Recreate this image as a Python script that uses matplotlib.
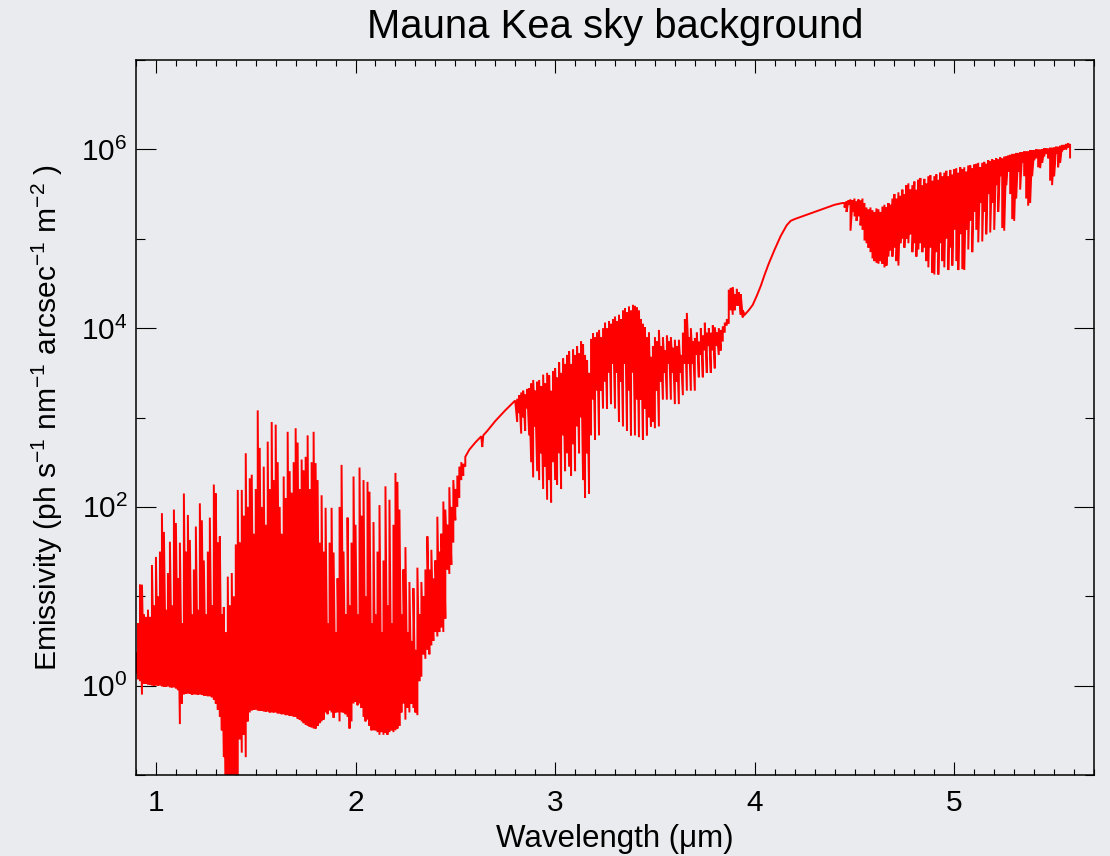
import numpy as np
import matplotlib
matplotlib.use("Agg")
import matplotlib.pyplot as plt
from matplotlib.ticker import FixedLocator, MultipleLocator, NullFormatter

# ---------------------------------------------------------------------------
# Mauna Kea sky emission spectrum, stored as log10 of the emissivity
# (ph s^-1 nm^-1 arcsec^-1 m^-2).  Dense line-forest bands are sampled as
# (wavelength, line peak, inter-line trough); smooth stretches as single values.
# ---------------------------------------------------------------------------

# 0.90 - 2.55 um : OH / H2O line forest (J, H, K)
jhk_wl = [
    0.90, 0.91, 0.92, 0.93, 0.94, 0.95, 0.96, 0.97, 0.98, 0.99,
    1.00, 1.01, 1.02, 1.03, 1.04, 1.05, 1.06, 1.07, 1.08, 1.09,
    1.10, 1.11, 1.12, 1.13, 1.14, 1.15, 1.16, 1.17, 1.18, 1.19,
    1.20, 1.21, 1.22, 1.23, 1.24, 1.25, 1.26, 1.27, 1.28, 1.29,
    1.30, 1.31, 1.32, 1.33, 1.34, 1.35, 1.36, 1.37, 1.38, 1.39,
    1.40, 1.41, 1.42, 1.43, 1.44, 1.45, 1.46, 1.47, 1.48, 1.49,
    1.50, 1.51, 1.52, 1.53, 1.54, 1.55, 1.56, 1.57, 1.58, 1.59,
    1.60, 1.61, 1.62, 1.63, 1.64, 1.65, 1.66, 1.67, 1.68, 1.69,
    1.70, 1.71, 1.72, 1.73, 1.74, 1.75, 1.76, 1.77, 1.78, 1.79,
    1.80, 1.81, 1.82, 1.83, 1.84, 1.85, 1.86, 1.87, 1.88, 1.89,
    1.90, 1.91, 1.92, 1.93, 1.94, 1.95, 1.96, 1.97, 1.98, 1.99,
    2.00, 2.01, 2.02, 2.03, 2.04, 2.05, 2.06, 2.07, 2.08, 2.09,
    2.10, 2.11, 2.12, 2.13, 2.14, 2.15, 2.16, 2.17, 2.18, 2.19,
    2.20, 2.21, 2.22, 2.23, 2.24, 2.25, 2.26, 2.27, 2.28, 2.29,
    2.30, 2.31, 2.32, 2.33, 2.34, 2.35, 2.36, 2.37, 2.38, 2.39,
    2.40, 2.41, 2.42, 2.43, 2.44, 2.45, 2.46, 2.47, 2.48, 2.49,
    2.50, 2.51, 2.52, 2.53, 2.54, 2.55,
]
jhk_log_peak = [
    0.37, 0.70, 1.13, 1.13, 0.80, 0.77, 0.85, 0.77, 1.35, 0.90,
    1.44, 1.00, 1.50, 1.93, 1.72, 0.85, 1.26, 1.61, 0.90, 1.97,
    1.82, 1.20, 1.60, 0.70, 2.15, 1.50, 1.91, 1.63, 0.80, 1.30,
    1.78, 0.85, 2.04, 1.85, 1.40, 0.80, 1.50, 1.88, 0.90, 2.25,
    2.15, 1.60, 1.67, 0.80, 0.88, 0.60, 1.22, 0.90, 1.26, 1.00,
    1.58, 2.19, 1.60, 2.19, 1.90, 2.60, 2.00, 2.32, 2.36, 1.70,
    2.20, 3.08, 2.66, 2.00, 2.45, 1.80, 2.73, 2.20, 2.95, 2.30,
    2.92, 2.50, 2.00, 1.70, 2.34, 2.10, 2.84, 2.40, 2.16, 2.50,
    2.88, 2.72, 2.20, 2.53, 2.41, 2.56, 2.80, 2.20, 2.50, 2.84,
    2.49, 2.30, 1.60, 2.13, 1.50, 1.99, 0.70, 1.60, 1.99, 1.49,
    0.60, 1.20, 2.00, 2.47, 1.50, 0.80, 1.88, 0.90, 1.60, 2.34,
    1.80, 0.80, 2.44, 1.90, 2.30, 1.00, 2.28, 2.17, 0.70, 1.83,
    0.80, 1.50, 2.02, 0.60, 1.40, 2.23, 0.90, 2.08, 0.70, 1.80,
    2.38, 2.28, 1.97, 0.80, 1.30, 1.55, 0.60, 1.16, 0.50, 1.09,
    0.40, 1.32, 0.80, 1.16, 1.00, 1.30, 1.67, 1.30, 1.52, 1.20,
    1.40, 1.89, 1.50, 1.70, 2.06, 1.97, 1.80, 2.22, 2.00, 2.30,
    2.20, 2.35, 2.45, 2.50, 2.48, 2.56,
]
jhk_log_trough = [
    0.15, 0.07, 0.05, -0.10, 0.02, 0.02, 0.01, 0.01, 0.00, 0.00,
    0.00, 0.00, 0.00, -0.01, -0.01, -0.01, -0.01, -0.02, -0.02, -0.02,
    -0.03, -0.05, -0.43, -0.20, -0.10, -0.09, -0.09, -0.09, -0.10, -0.10,
    -0.10, -0.10, -0.10, -0.10, -0.11, -0.11, -0.12, -0.12, -0.13, -0.16,
    -0.20, -0.27, -0.35, -0.50, -0.80, -1.30, -1.30, -1.30, -1.30, -1.30,
    -1.30, -1.10, -0.60, -0.75, -0.55, -0.80, -0.40, -0.30, -0.28, -0.27,
    -0.27, -0.28, -0.28, -0.28, -0.29, -0.29, -0.29, -0.30, -0.30, -0.30,
    -0.30, -0.31, -0.31, -0.32, -0.32, -0.33, -0.33, -0.34, -0.34, -0.35,
    -0.35, -0.37, -0.38, -0.40, -0.42, -0.44, -0.45, -0.46, -0.47, -0.48,
    -0.48, -0.45, -0.42, -0.40, -0.38, -0.30, -0.32, -0.28, -0.30, -0.36,
    -0.30, -0.30, -0.40, -0.30, -0.30, -0.32, -0.35, -0.48, -0.40, -0.20,
    -0.18, -0.22, -0.20, -0.25, -0.35, -0.40, -0.38, -0.45, -0.50, -0.50,
    -0.50, -0.52, -0.55, -0.52, -0.55, -0.53, -0.55, -0.52, -0.50, -0.52,
    -0.50, -0.48, -0.45, -0.30, -0.20, -0.38, -0.25, -0.30, -0.20, -0.25,
    -0.30, -0.33, 0.05, 0.10, 0.35, 0.30, 0.40, 0.35, 0.45, 0.50,
    0.60, 0.55, 0.60, 0.65, 0.60, 0.75, 1.30, 1.25, 1.35, 1.60,
    1.85, 2.00, 2.10, 2.30, 2.35, 2.45,
]

# 2.56 - 2.80 um : smooth thermal rise
rise_wl = [2.56, 2.57, 2.60, 2.63, 2.635, 2.64, 2.66, 2.70, 2.75, 2.80]
rise_log = [2.60, 2.64, 2.72, 2.79, 2.67, 2.80, 2.85, 2.96, 3.08, 3.19]

# 2.81 - 3.94 um : H2O / CH4 absorption in the L band
l_wl = [
    2.81, 2.82, 2.83, 2.84, 2.85, 2.86, 2.87, 2.88, 2.89, 2.90,
    2.91, 2.92, 2.93, 2.94, 2.95, 2.96, 2.97, 2.98, 2.99, 3.00,
    3.01, 3.02, 3.03, 3.04, 3.05, 3.06, 3.07, 3.08, 3.09, 3.10,
    3.11, 3.12, 3.13, 3.14, 3.15, 3.16, 3.17, 3.18, 3.19, 3.20,
    3.21, 3.22, 3.23, 3.24, 3.25, 3.26, 3.27, 3.28, 3.29, 3.30,
    3.31, 3.32, 3.33, 3.34, 3.35, 3.36, 3.37, 3.38, 3.39, 3.40,
    3.41, 3.42, 3.43, 3.44, 3.45, 3.46, 3.47, 3.48, 3.49, 3.50,
    3.51, 3.52, 3.53, 3.54, 3.55, 3.56, 3.57, 3.58, 3.59, 3.60,
    3.61, 3.62, 3.63, 3.64, 3.65, 3.66, 3.67, 3.68, 3.69, 3.70,
    3.71, 3.72, 3.73, 3.74, 3.75, 3.76, 3.77, 3.78, 3.79, 3.80,
    3.81, 3.82, 3.83, 3.84, 3.85, 3.86, 3.87, 3.88, 3.89, 3.90,
    3.91, 3.92, 3.93, 3.94,
]
l_log_peak = [
    3.21, 3.25, 3.28, 3.30, 3.26, 3.32, 3.33, 3.38, 3.42, 3.30,
    3.40, 3.42, 3.35, 3.48, 3.38, 3.50, 3.47, 3.30, 3.52, 3.55,
    3.45, 3.62, 3.50, 3.66, 3.60, 3.70, 3.74, 3.60, 3.76, 3.70,
    3.80, 3.72, 3.85, 3.82, 3.70, 3.64, 3.50, 3.88, 3.94, 3.90,
    3.95, 3.98, 3.90, 4.00, 4.06, 4.00, 4.08, 4.05, 4.10, 4.13,
    4.08, 4.15, 4.10, 4.20, 4.22, 4.18, 4.24, 4.20, 4.26, 4.25,
    4.23, 4.20, 4.10, 4.05, 4.01, 3.90, 3.95, 3.68, 3.80, 3.90,
    3.85, 3.98, 3.80, 3.90, 3.75, 3.92, 3.85, 3.90, 3.78, 3.87,
    3.80, 3.87, 3.70, 3.95, 4.10, 4.17, 3.90, 4.00, 3.85, 3.89,
    3.95, 3.85, 4.00, 3.92, 4.06, 3.95, 4.00, 3.95, 4.03, 4.01,
    3.95, 4.00, 3.98, 4.02, 4.06, 4.10, 4.43, 4.45, 4.46, 4.38,
    4.44, 4.40, 4.38, 4.20,
]
l_log_trough = [
    2.95, 3.05, 2.82, 3.00, 2.85, 3.10, 2.80, 2.50, 2.33, 2.90,
    2.40, 2.30, 2.60, 2.20, 2.45, 2.08, 2.30, 2.05, 2.50, 2.30,
    2.25, 2.60, 2.20, 2.80, 2.40, 2.60, 2.45, 2.35, 2.70, 2.40,
    2.90, 2.60, 3.00, 2.30, 2.10, 2.60, 2.15, 2.80, 3.20, 2.75,
    3.30, 2.80, 3.30, 3.10, 3.40, 3.10, 3.50, 3.15, 3.60, 3.10,
    3.50, 2.95, 3.40, 2.90, 3.60, 2.85, 3.30, 2.80, 3.50, 2.80,
    3.20, 2.78, 3.20, 2.75, 3.10, 2.80, 3.00, 2.90, 2.95, 2.88,
    3.30, 2.90, 3.40, 3.20, 3.50, 3.20, 3.60, 3.20, 3.50, 3.15,
    3.40, 3.15, 3.50, 3.25, 3.60, 3.30, 3.60, 3.30, 3.60, 3.30,
    3.70, 3.45, 3.70, 3.45, 3.75, 3.50, 3.80, 3.50, 3.75, 3.55,
    3.80, 3.70, 3.75, 3.85, 3.95, 4.03, 4.05, 4.20, 4.15, 4.20,
    4.25, 4.25, 4.15, 4.12,
]

# 3.95 - 4.44 um : smooth thermal continuum and CO2 edge
mid_wl = [3.95, 3.97, 3.99, 4.01, 4.03, 4.05, 4.07, 4.10, 4.13,
          4.16, 4.18, 4.20, 4.25, 4.30, 4.35, 4.40, 4.44]
mid_log = [4.15, 4.20, 4.26, 4.36, 4.47, 4.60, 4.72, 4.88, 5.03,
           5.15, 5.20, 5.22, 5.26, 5.30, 5.34, 5.38, 5.40]

# 4.45 - 5.58 um : M band, continuum with deep H2O lines
m_wl = [
    4.45, 4.46, 4.47, 4.48, 4.49, 4.50, 4.51, 4.52, 4.53, 4.54,
    4.55, 4.56, 4.57, 4.58, 4.59, 4.60, 4.61, 4.62, 4.63, 4.64,
    4.65, 4.66, 4.67, 4.68, 4.69, 4.70, 4.71, 4.72, 4.73, 4.74,
    4.75, 4.76, 4.77, 4.78, 4.79, 4.80, 4.81, 4.82, 4.83, 4.84,
    4.85, 4.86, 4.87, 4.88, 4.89, 4.90, 4.91, 4.92, 4.93, 4.94,
    4.95, 4.96, 4.97, 4.98, 4.99, 5.00, 5.01, 5.02, 5.03, 5.04,
    5.05, 5.06, 5.07, 5.08, 5.09, 5.10, 5.11, 5.12, 5.13, 5.14,
    5.15, 5.16, 5.17, 5.18, 5.19, 5.20, 5.21, 5.22, 5.23, 5.24,
    5.25, 5.26, 5.27, 5.28, 5.29, 5.30, 5.31, 5.32, 5.33, 5.34,
    5.35, 5.36, 5.37, 5.38, 5.39, 5.40, 5.41, 5.42, 5.43, 5.44,
    5.45, 5.46, 5.47, 5.48, 5.49, 5.50, 5.51, 5.52, 5.53, 5.54,
    5.55, 5.56, 5.57, 5.58,
]
m_log_peak = [
    5.40, 5.42, 5.43, 5.44, 5.43, 5.45, 5.42, 5.44, 5.43, 5.45,
    5.40, 5.35, 5.33, 5.35, 5.32, 5.30, 5.34, 5.33, 5.30, 5.36,
    5.38, 5.35, 5.40, 5.38, 5.45, 5.50, 5.45, 5.52, 5.48, 5.55,
    5.50, 5.60, 5.62, 5.55, 5.60, 5.64, 5.55, 5.66, 5.68, 5.60,
    5.67, 5.62, 5.70, 5.71, 5.65, 5.70, 5.72, 5.66, 5.74, 5.70,
    5.74, 5.76, 5.70, 5.77, 5.72, 5.78, 5.79, 5.74, 5.80, 5.78,
    5.80, 5.75, 5.82, 5.82, 5.79, 5.83, 5.84, 5.85, 5.80, 5.85,
    5.86, 5.84, 5.88, 5.87, 5.89, 5.88, 5.90, 5.89, 5.91, 5.90,
    5.92, 5.92, 5.93, 5.94, 5.95, 5.95, 5.96, 5.96, 5.97, 5.97,
    5.98, 5.98, 5.98, 5.99, 5.99, 5.99, 6.00, 6.00, 6.00, 6.00,
    6.01, 6.01, 6.01, 6.02, 6.02, 6.02, 6.03, 6.03, 6.04, 6.05,
    6.05, 6.06, 6.07, 6.06,
]
m_log_trough = [
    5.35, 5.30, 5.38, 5.09, 5.30, 5.25, 5.20, 5.25, 5.15, 5.10,
    4.98, 4.95, 4.90, 4.85, 4.78, 4.75, 4.73, 4.72, 4.75, 4.72,
    4.68, 4.70, 4.80, 4.87, 4.80, 4.90, 4.75, 4.70, 4.95, 5.00,
    4.90, 5.00, 4.95, 5.05, 4.85, 4.95, 4.80, 4.88, 4.95, 4.85,
    4.90, 4.75, 4.68, 4.90, 4.62, 4.60, 4.85, 4.60, 4.95, 4.75,
    4.68, 5.00, 4.65, 4.90, 4.70, 5.10, 4.75, 4.65, 5.05, 4.66,
    4.65, 5.10, 4.88, 5.20, 4.85, 5.30, 5.10, 4.96, 5.40, 4.97,
    5.30, 5.05, 5.50, 5.07, 5.40, 5.10, 5.60, 5.30, 5.70, 5.12,
    5.09, 5.60, 5.75, 5.50, 5.22, 5.20, 5.45, 5.75, 5.55, 5.85,
    5.70, 5.45, 5.37, 5.40, 5.70, 5.88, 5.90, 5.80, 5.79, 5.85,
    5.92, 5.95, 5.90, 5.65, 5.60, 5.70, 5.95, 5.80, 5.85, 5.98,
    6.00, 6.00, 6.02, 5.91,
]

x_tick_values = [1, 2, 3, 4, 5]
y_major_values = [1e0, 1e2, 1e4, 1e6]
y_minor_values = [1e-1, 1e1, 1e3, 1e5, 1e7]
y_tick_labels = [r"$10^{0}$", r"$10^{2}$", r"$10^{4}$", r"$10^{6}$"]


def line_forest(wl, log_trough, log_peak):
    """Trace each line from its trough up to its peak, in wavelength order."""
    wl = np.asarray(wl, dtype=float)
    x = np.repeat(wl, 2)
    y = np.column_stack([log_trough, log_peak]).ravel()
    return x, y


pieces = [
    line_forest(jhk_wl, jhk_log_trough, jhk_log_peak),
    (np.asarray(rise_wl), np.asarray(rise_log)),
    line_forest(l_wl, l_log_trough, l_log_peak),
    (np.asarray(mid_wl), np.asarray(mid_log)),
    line_forest(m_wl, m_log_peak, m_log_trough),
]
wavelength = np.concatenate([p[0] for p in pieces])
emissivity = 10.0 ** np.concatenate([p[1] for p in pieces])

# ---------------------------------------------------------------------------
plt.rcParams["font.family"] = ["Liberation Sans", "DejaVu Sans"]
plt.rcParams["mathtext.fontset"] = "custom"
plt.rcParams["mathtext.rm"] = "Liberation Sans"
plt.rcParams["mathtext.it"] = "Liberation Sans:italic"
plt.rcParams["mathtext.bf"] = "Liberation Sans:bold"

bg = "#e9ebee"
fig = plt.figure(figsize=(11.10, 8.56), dpi=100, facecolor=bg)
ax = fig.add_axes([0.1225, 0.0946, 0.8631, 0.8353], facecolor=bg)

ax.plot(wavelength, emissivity, color="#ff0000", lw=1.4,
        solid_joinstyle="miter")

ax.set_yscale("log")
ax.set_xlim(0.9, 5.7)
ax.set_ylim(1e-1, 1e7)

ax.xaxis.set_major_locator(FixedLocator(x_tick_values))
ax.xaxis.set_minor_locator(MultipleLocator(0.1))
ax.set_xticklabels([str(v) for v in x_tick_values])
ax.yaxis.set_major_locator(FixedLocator(y_major_values))
ax.yaxis.set_minor_locator(FixedLocator(y_minor_values))
ax.set_yticklabels(y_tick_labels)
ax.yaxis.set_minor_formatter(NullFormatter())

ax.tick_params(which="both", direction="in", top=True, right=True,
               colors="black", width=0.8, labelsize=21.5)
ax.tick_params(axis="x", which="major", length=9.5, pad=10)
ax.tick_params(axis="x", which="minor", length=4.5)
ax.tick_params(axis="y", which="major", length=14.5, pad=6)
ax.tick_params(axis="y", which="minor", length=6.5)
for s in ax.spines.values():
    s.set_linewidth(1.1)
    s.set_color("black")

ax.set_title("Mauna Kea sky background", fontsize=28.8, pad=16)
ax.set_xlabel("Wavelength (\u03bcm)", fontsize=22.5)
ax.xaxis.set_label_coords(0.5, -0.068)
ax.set_ylabel(r"Emissivity (ph s$^{-1}$ nm$^{-1}$ arcsec$^{-1}$ m$^{-2}$ )",
              fontsize=21.6)
ax.yaxis.set_label_coords(-0.074, 0.5)

fig.savefig("out.png", dpi=100, facecolor=bg)
